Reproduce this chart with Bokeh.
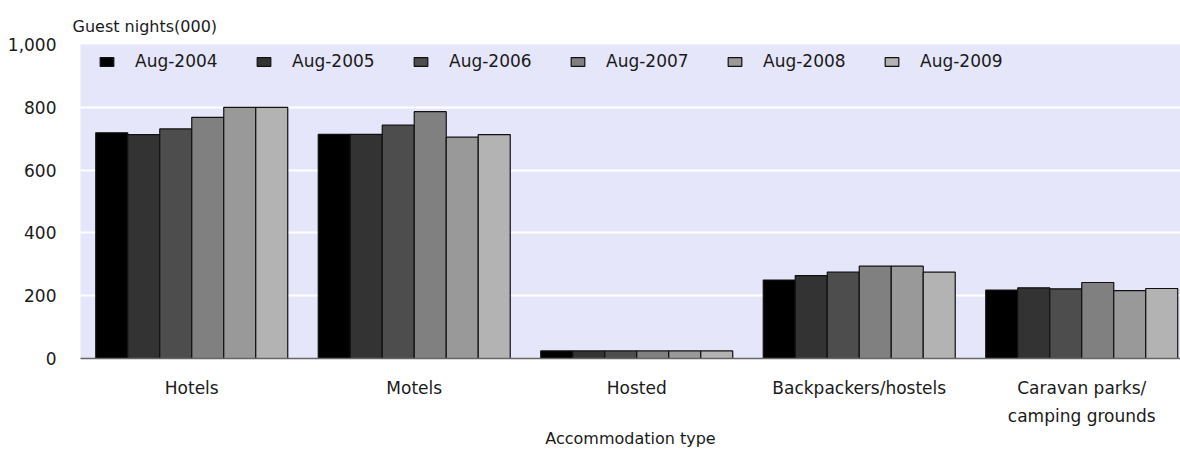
from bokeh.plotting import figure
from bokeh.models import ColumnDataSource, Range1d, FixedTicker, NumeralTickFormatter, Legend, LegendItem, Title
from bokeh.embed import file_html
from bokeh.resources import INLINE

categories = ["Hotels", "Motels", "Hosted", "Backpackers/hostels", "Caravan parks/\ncamping grounds"]
years = ["Aug-2004", "Aug-2005", "Aug-2006", "Aug-2007", "Aug-2008", "Aug-2009"]
aug2004 = [719, 714, 24, 250, 218]
aug2005 = [713, 714, 24, 264, 225]
aug2006 = [731, 743, 24, 275, 222]
aug2007 = [768, 786, 24, 294, 242]
aug2008 = [800, 705, 24, 294, 216]
aug2009 = [800, 713, 24, 275, 223]
series = [aug2004, aug2005, aug2006, aug2007, aug2008, aug2009]
y_ticks = [0, 200, 400, 600, 800, 1000]

colors = ["#000000", "#333333", "#4d4d4d", "#808080", "#999999", "#b3b3b3"]
FONT = "DejaVu Sans"
FS = "17px"
TXT = "#1a1a1a"

W, H = 1180, 450
frame_left = 80
px_per_cat = 222.5
x_end = (W - frame_left) / px_per_cat

p = figure(width=W, height=H, output_backend="svg", toolbar_location=None,
           x_range=Range1d(0, x_end), y_range=Range1d(0, 1000),
           min_border_left=frame_left, min_border_right=0, min_border_top=44, min_border_bottom=91)
p.background_fill_color = "#e6e6fa"
p.border_fill_color = "white"
p.outline_line_color = None

bw = 0.1438
items = []
for k, (yr, vals) in enumerate(zip(years, series)):
    xs = [i + 0.5 + (k - 2.5) * bw for i in range(len(categories))]
    src = ColumnDataSource(dict(x=xs, top=vals))
    r = p.vbar(x="x", top="top", bottom=0, width=bw, source=src,
               fill_color=colors[k], line_color="#111111", line_width=1.2)
    items.append(LegendItem(label=yr, renderers=[r]))

legend = Legend(items=items, orientation="horizontal", location=(18, 287),
                glyph_width=17, glyph_height=11, label_standoff=20, label_width=92,
                spacing=28, padding=0, margin=0, border_line_alpha=0, background_fill_alpha=0,
                label_text_font=FONT, label_text_font_size=FS, label_text_color=TXT, label_height=15)
p.add_layout(legend, "center")

# y axis
p.yaxis.ticker = FixedTicker(ticks=y_ticks)
p.yaxis.formatter = NumeralTickFormatter(format="0,0")
p.yaxis.axis_line_color = None
p.yaxis.major_tick_line_color = None
p.yaxis.minor_tick_line_color = None
p.yaxis.major_label_standoff = 18
p.yaxis.major_label_text_font = FONT
p.yaxis.major_label_text_font_size = FS
p.yaxis.major_label_text_color = TXT

# x axis
p.xaxis.ticker = FixedTicker(ticks=[i + 0.5 for i in range(len(categories))])
p.xaxis.major_label_overrides = {i + 0.5: c for i, c in enumerate(categories)}
p.xaxis.axis_line_color = "#666666"
p.xaxis.axis_line_width = 1.5
p.xaxis.major_tick_line_color = None
p.xaxis.minor_tick_line_color = None
p.xaxis.major_label_standoff = 13
p.xaxis.major_label_text_font = FONT
p.xaxis.major_label_text_font_size = FS
p.xaxis.major_label_text_color = TXT
p.xaxis.major_label_text_line_height = 1.4
p.xaxis.axis_label = "Accommodation type"
p.xaxis.axis_label_standoff = 0
p.xaxis.axis_label_text_font = FONT
p.xaxis.axis_label_text_font_size = "16px"
p.xaxis.axis_label_text_font_style = "normal"
p.xaxis.axis_label_text_line_height = 1.0
p.xaxis.axis_label_text_color = TXT

p.xgrid.grid_line_color = None
p.ygrid.grid_line_color = "white"
p.ygrid.grid_line_width = 2

p.title = Title(text="Guest nights(000)", align="left", offset=-8,
                text_font=FONT, text_font_size="16px", text_font_style="normal",
                text_color=TXT, standoff=17)

open("out.html", "w").write(file_html(p, INLINE))
